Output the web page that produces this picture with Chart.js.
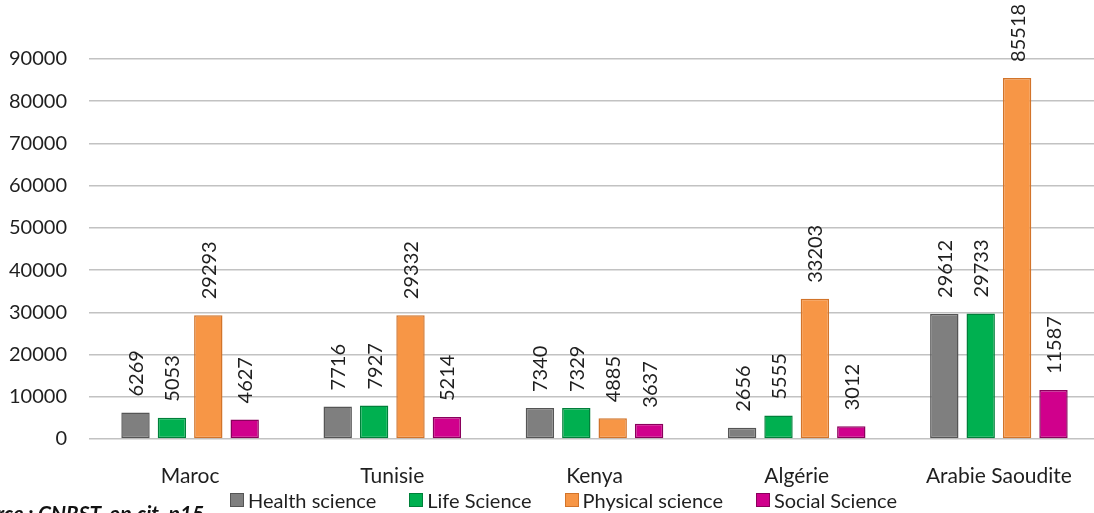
<!DOCTYPE html>
<html>
<head>
<meta charset="utf-8">
<script src="https://cdn.jsdelivr.net/npm/chart.js@4.4.1/dist/chart.umd.min.js"></script>
<style>
  html, body { margin: 0; padding: 0; background: #ffffff; overflow: hidden; }
  #wrap { position: relative; width: 1100px; height: 513px; }
  #legend {
    position: absolute; left: 230px; top: 487px;
    display: flex; gap: 33px;
    font: 20px Lato, "Open Sans", sans-serif; color: #1f1f1f;
    line-height: 26px; white-space: nowrap;
  }
  #legend .item { display: flex; align-items: center; gap: 4px; }
  #legend .box { width: 12px; height: 12px; border: 1px solid; }
</style>
</head>
<body>
<div id="wrap"><canvas id="chart"></canvas><div id="legend"></div></div>
<script>
// Publications par domaine et par pays
const countries = ['Maroc', 'Tunisie', 'Kenya', 'Algérie', 'Arabie Saoudite'];
const health = [6269, 7716, 7340, 2656, 29612];
const life = [5053, 7927, 7329, 5555, 29733];
const physical = [29293, 29332, 4885, 33203, 85518];
const social = [4627, 5214, 3637, 3012, 11587];
const yTicks = [0, 10000, 20000, 30000, 40000, 50000, 60000, 70000, 80000, 90000];
const sourceNote = 'Source : CNRST, op.cit, p15';

const FONT = 'Lato, "Open Sans", sans-serif';
const TEXT = '#1f1f1f';

function series(label, data, fill, edge) {
    return {
        label: label,
        data: data,
        backgroundColor: fill,
        borderColor: edge,
        borderWidth: 1.5,
        borderSkipped: false,
        categoryPercentage: 0.72,
        barPercentage: 0.78
    };
}

// value labels, rotated, above each bar
const valueLabels = {
    id: 'valueLabels',
    afterDatasetsDraw(chart) {
        const ctx = chart.ctx;
        ctx.save();
        ctx.font = '20px ' + FONT;
        ctx.fillStyle = TEXT;
        ctx.textAlign = 'left';
        ctx.textBaseline = 'middle';
        chart.data.datasets.forEach((ds, i) => {
            chart.getDatasetMeta(i).data.forEach((bar, j) => {
                ctx.save();
                ctx.translate(bar.x, bar.y - 16);
                ctx.rotate(-Math.PI / 2);
                ctx.fillText(String(ds.data[j]), 0, 1);
                ctx.restore();
            });
        });
        ctx.restore();
    }
};

// source line under the legend
const sourceLine = {
    id: 'sourceLine',
    afterDraw(chart) {
        const ctx = chart.ctx;
        ctx.save();
        ctx.font = 'italic bold 21px ' + FONT;
        ctx.fillStyle = '#111111';
        ctx.textBaseline = 'alphabetic';
        const lead = ctx.measureText('Source : ').width;
        ctx.fillText(sourceNote, 38 - lead, 521);
        ctx.restore();
    }
};

// legend built from the datasets
const htmlLegend = {
    id: 'htmlLegend',
    afterUpdate(chart) {
        const box = document.getElementById('legend');
        box.innerHTML = '';
        chart.data.datasets.forEach(ds => {
            const item = document.createElement('span');
            item.className = 'item';
            const sw = document.createElement('span');
            sw.className = 'box';
            sw.style.background = ds.backgroundColor;
            sw.style.borderColor = ds.borderColor;
            const txt = document.createElement('span');
            txt.textContent = ds.label;
            item.appendChild(sw);
            item.appendChild(txt);
            box.appendChild(item);
        });
    }
};

new Chart(document.getElementById('chart'), {
    type: 'bar',
    data: {
        labels: countries,
        datasets: [
            series('Health science', health, '#7f7f7f', '#555555'),
            series('Life Science', life, '#00b050', '#00803a'),
            series('Physical science', physical, '#f79646', '#d2742a'),
            series('Social Science', social, '#d0008c', '#8a005c')
        ]
    },
    options: {
        responsive: true,
        maintainAspectRatio: false,
        animation: false,
        layout: {
            padding: { top: 59, right: 0, bottom: 26, left: 0 }
        },
        plugins: {
            legend: { display: false },
            tooltip: { enabled: false }
        },
        scales: {
            x: {
                afterFit: (scale) => {
                    scale.height = 48;
                },
                grid: { display: false },
                border: { display: false },
                ticks: {
                    color: TEXT,
                    font: { family: FONT, size: 21 },
                    padding: 17
                }
            },
            y: {
                min: 0,
                max: 90000,
                afterBuildTicks: (scale) => {
                    scale.ticks = yTicks.map(v => ({ value: v }));
                },
                afterFit: (scale) => {
                    scale.width = 89;
                },
                grid: {
                    color: '#c2c2c2',
                    lineWidth: 1.5,
                    drawTicks: false
                },
                border: { display: false },
                ticks: {
                    color: TEXT,
                    font: { family: FONT, size: 20 },
                    padding: 22,
                    callback: (v) => String(v)
                }
            }
        }
    },
    plugins: [valueLabels, sourceLine, htmlLegend]
});
</script>
</body>
</html>
